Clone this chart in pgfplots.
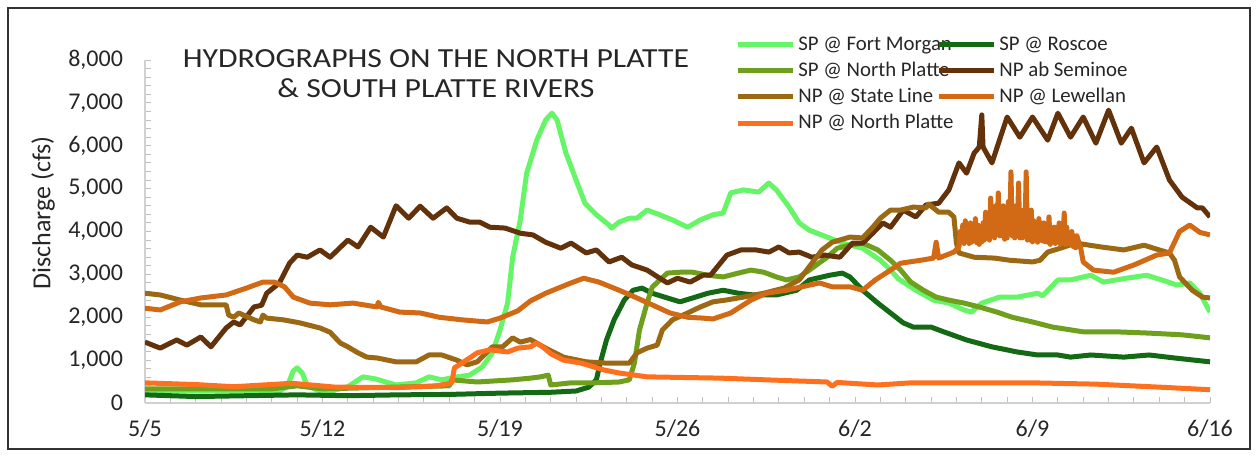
\documentclass[border=0pt]{standalone}
\usepackage{fontspec}
\setmainfont{Carlito}
\newfontfamily\titlefont{Carlito}[FakeStretch=1.15]
\usepackage{pgfplots}
\pgfplotsset{compat=1.18}
\definecolor{cFM}{RGB}{102,245,102}
\definecolor{cRO}{RGB}{20,105,20}
\definecolor{cSPNP}{RGB}{110,160,30}
\definecolor{cSEM}{RGB}{99,50,10}
\definecolor{cSL}{RGB}{155,105,20}
\definecolor{cLEW}{RGB}{210,105,20}
\definecolor{cNPNP}{RGB}{255,112,30}
\begin{document}
\begin{tikzpicture}
\useasboundingbox (0,0) rectangle (628.5pt,227.5pt);
\draw[line width=1pt, black!80] (4pt,3pt) rectangle (625pt,223.5pt);
\begin{axis}[
  at={(72.5pt,26pt)}, anchor=south west,
  scale only axis, width=532.5pt, height=171.5pt,
  xmin=0, xmax=42, ymin=0, ymax=8000,
  axis x line*=bottom, axis y line*=left,
  axis line style={draw=black!18, line width=0.7pt, -},
  xtick={0,7,...,42}, xticklabels={5/5,5/12,5/19,5/26,6/2,6/9,6/16},
  minor x tick num=6,
  ytick={0,1000,...,8000}, minor y tick num=4,
  tick style={draw=black!25, line width=0.5pt},
  major tick length=3pt, minor tick length=3pt,
  tick align=inside,
  ticklabel style={font=\fontsize{12}{14}\selectfont, text=black!85},
  xticklabel style={yshift=-5pt},
  yticklabel style={xshift=-7.5pt},
  /pgf/number format/.cd, 1000 sep={,}, assume math mode=true,
  /pgfplots/.cd,
  scaled y ticks=false,
  every axis plot/.append style={line width=2.5pt, line join=round, no markers},
  legend columns=2,
  legend cell align=left,
  legend image code/.code={\draw[#1, line width=2.5pt] (0pt,0pt) -- (27.5pt,0pt);},
  legend style={at={(0.554,1.079)}, anchor=north west, draw=none, fill=none,
    inner sep=0pt, font=\fontsize{10.4}{12}\selectfont, text=black!85,
    row sep=1.65pt,
    nodes={inner xsep=1.5pt, inner ysep=1pt, text height=7.4pt, text depth=2pt},
    /tikz/every even column/.append style={column sep=-10pt}},
]
% SP @ Fort Morgan
\addplot[color=cFM] coordinates {
(0,280)(5.3,280)(5.6,380)(5.85,750)(6.0,820)(6.2,700)(6.4,400)(6.8,300)(7.3,270)
(8.0,380)(8.6,610)(9.1,560)(9.9,420)(10.7,470)(11.2,610)(11.7,540)(12.3,610)(12.8,650)
(13.3,840)(13.7,1170)(14.0,1700)(14.3,2330)(14.5,3400)(14.8,4270)(15.05,5360)(15.45,6130)
(15.8,6600)(16.05,6760)(16.25,6600)(16.6,5830)(17.0,5200)(17.35,4660)(17.8,4390)(18.3,4150)
(18.4,4080)(18.7,4220)(19.1,4310)(19.4,4310)(19.8,4500)(20.3,4390)(20.8,4270)(21.4,4100)
(21.9,4270)(22.4,4390)(22.8,4430)(23.1,4900)(23.6,4970)(24.2,4920)(24.6,5130)(24.9,4970)
(25.4,4570)(25.8,4200)(26.2,4030)(26.9,3870)(27.5,3730)(28.3,3610)(29.0,3330)(29.4,3100)
(29.7,2900)(30.4,2630)(31.1,2400)(31.7,2330)(32.3,2170)(32.6,2120)(33.0,2330)(33.7,2470)
(34.4,2470)(35.2,2560)(35.4,2500)(36.0,2870)(36.5,2870)(37.3,2980)(37.8,2820)(38.7,2910)
(39.5,2980)(40.1,2870)(40.7,2750)(41.2,2800)(41.6,2560)(42,2120)};
\addlegendentry{SP @ Fort Morgan}
% SP @ Roscoe
\addplot[color=cRO] coordinates {
(0,190)(2,150)(4,170)(6,190)(8,170)(10,190)(12,200)(14,230)(16,250)(17.0,280)(17.5,370)
(17.8,540)(17.95,930)(18.2,1470)(18.5,1940)(18.9,2400)(19.25,2630)(19.6,2680)(20.0,2560)
(20.6,2450)(21.1,2360)(21.6,2450)(22.2,2560)(22.8,2630)(23.4,2560)(24.0,2520)(24.9,2520)
(25.7,2630)(26.2,2870)(27.0,2980)(27.5,3030)(27.8,2940)(28.3,2630)(28.9,2330)(29.4,2100)
(29.9,1870)(30.3,1770)(31.0,1770)(31.5,1660)(32.4,1470)(33.4,1310)(34.4,1190)(35.2,1120)
(36.0,1120)(36.5,1070)(37.3,1120)(38.6,1070)(39.6,1120)(40.6,1050)(42,960)};
\addlegendentry{SP @ Roscoe}
% SP @ North Platte
\addplot[color=cSPNP] coordinates {
(0,330)(5,330)(6,400)(7,330)(12.0,400)(12.1,540)(13.1,490)(14.5,540)(15.2,580)(15.6,610)
(15.9,650)(16.0,420)(16.8,470)(17.7,470)(18.7,490)(19.1,540)(19.3,930)(19.5,1700)(19.8,2330)
(20.0,2700)(20.3,2870)(20.6,3030)(21.1,3050)(21.6,3050)(22.2,2980)(22.8,2940)(23.4,3030)
(23.9,3100)(24.4,3050)(24.9,2940)(25.3,2870)(25.8,2940)(26.2,3100)(26.9,3400)(27.3,3610)
(27.8,3680)(28.3,3730)(28.9,3570)(29.4,3330)(29.8,3100)(30.2,2820)(30.7,2630)(31.2,2470)
(31.7,2400)(32.3,2330)(32.9,2240)(33.6,2120)(34.2,2000)(35.0,1890)(35.8,1770)(37.0,1660)
(38.3,1660)(39.6,1630)(40.9,1590)(42,1520)};
\addlegendentry{SP @ North Platte}
% NP ab Seminoe
\addplot[color=cSEM] coordinates {
(0,1420)(0.6,1280)(1.25,1470)(1.65,1350)(2.2,1540)(2.6,1310)(3.2,1750)(3.5,1890)(3.75,1820)
(4.3,2240)(4.6,2280)(4.8,2560)(5.3,2800)(5.7,3260)(6.0,3450)(6.4,3400)(6.9,3570)(7.3,3400)
(8.0,3800)(8.4,3640)(8.9,4100)(9.4,3870)(9.9,4600)(10.4,4310)(10.85,4590)(11.36,4310)
(11.9,4550)(12.3,4310)(12.8,4220)(13.2,4220)(13.6,4100)(14.2,4080)(14.8,3960)(15.3,3920)
(15.8,3750)(16.4,3610)(16.8,3730)(17.4,3500)(17.8,3570)(18.3,3290)(18.8,3400)(19.2,3220)
(19.8,3100)(20.3,2910)(20.6,2800)(21.0,2910)(21.5,2820)(22.0,2980)(22.3,2980)(22.95,3450)
(23.5,3570)(24.1,3570)(24.6,3520)(25.0,3640)(25.4,3500)(25.8,3520)(26.3,3400)(26.8,3450)
(27.4,3400)(27.9,3730)(28.3,3730)(28.7,3960)(29.1,4200)(29.4,4100)(29.9,4500)(30.4,4340)
(30.8,4620)(31.3,4660)(31.7,4970)(32.1,5600)(32.4,5360)(32.7,5830)(32.9,5970)(33.0,6720)
(33.05,5970)(33.4,5600)(34.0,6670)(34.5,6200)(35.0,6670)(35.6,6130)(36.0,6760)(36.5,6200)
(37.0,6670)(37.5,6060)(38.0,6830)(38.5,6060)(38.9,6410)(39.4,5600)(39.9,5970)(40.4,5200)
(40.9,4800)(41.5,4550)(41.7,4550)(42,4340)};
\addlegendentry{NP ab Seminoe}
% NP @ State Line
\addplot[color=cSL] coordinates {
(0,2560)(0.6,2520)(1.4,2400)(2.2,2290)(3.2,2290)(3.3,2050)(3.5,2000)(3.7,2100)(4.3,1940)
(4.55,1890)(4.65,2050)(4.8,1980)(5.45,1940)(6.1,1870)(6.9,1750)(7.3,1650)(7.7,1400)(8.0,1310)
(8.4,1170)(8.75,1070)(9.15,1050)(9.9,960)(10.7,960)(11.2,1120)(11.7,1120)(12.3,1000)(12.7,890)
(13.1,960)(13.7,1310)(14.1,1310)(14.5,1520)(14.8,1420)(15.2,1480)(15.8,1280)(16.5,1070)
(17.4,960)(18.2,930)(19.1,930)(19.4,1170)(19.8,1280)(20.2,1350)(20.4,1700)(20.8,1940)
(21.4,2100)(21.9,2240)(22.4,2360)(22.9,2400)(23.6,2470)(24.4,2560)(25.2,2680)(25.8,2870)
(26.3,3260)(26.7,3570)(27.1,3750)(27.8,3870)(28.3,3850)(28.7,4100)(29.0,4310)(29.4,4500)
(29.8,4500)(30.3,4570)(30.8,4550)(30.9,4640)(31.3,4450)(31.7,4450)(31.9,4340)(32.0,3730)
(32.1,3500)(32.7,3400)(33.5,3380)(34.1,3330)(35.0,3290)(35.3,3330)(35.6,3520)(36.1,3610)
(36.7,3730)(37.7,3640)(38.6,3570)(39.4,3680)(40.0,3570)(40.4,3500)(40.6,3330)(40.8,2940)
(41.3,2630)(41.7,2470)(42,2450)};
\addlegendentry{NP @ State Line}
% NP @ Lewellan
\addplot[color=cLEW] coordinates {
(0,2210)(0.6,2170)(1.4,2360)(2.2,2450)(3.2,2520)(4.0,2680)(4.65,2820)(5.1,2820)(5.5,2710)
(5.85,2470)(6.5,2330)(7.3,2290)(8.2,2330)(9.15,2240)(9.2,2350)(9.3,2240)(10.05,2120)
(10.85,2100)(11.6,2000)(12.5,1940)(13.5,1890)(14.0,1980)(14.7,2150)(15.2,2380)(15.8,2560)
(16.3,2680)(16.8,2800)(17.3,2910)(17.9,2820)(18.7,2630)(19.4,2450)(20.0,2290)(20.7,2100)
(21.4,2000)(22.0,1980)(22.4,1960)(23.1,2100)(23.9,2400)(24.5,2560)(25.3,2630)(25.9,2710)
(26.6,2800)(27.1,2710)(27.8,2710)(28.3,2630)(28.8,2870)(29.4,3100)(29.8,3260)(30.6,3330)
(31.1,3380)(31.2,3750)(31.3,3380)(31.9,3520)(32.1,3640)
(32.15,4000)(32.2,3760)(32.25,4150)(32.3,3720)(32.35,4250)(32.4,3780)(32.45,4050)(32.5,3720)
(32.55,4200)(32.6,3750)(32.65,4100)(32.7,3780)(32.75,4300)(32.8,3740)(32.85,4150)(32.9,3700)
(32.95,4050)(33.0,3760)(33.05,4200)(33.1,3800)(33.15,4450)(33.2,3850)(33.25,4300)(33.3,3800)
(33.35,4780)(33.4,3900)(33.45,4400)(33.5,3850)(33.55,4600)(33.6,3950)(33.65,4900)(33.7,3900)
(33.75,4450)(33.8,3900)(33.85,4600)(33.9,3820)(33.95,4350)(34.0,3850)(34.05,4700)(34.1,3950)
(34.15,5390)(34.2,3900)(34.25,4400)(34.3,3850)(34.35,4600)(34.4,3900)(34.45,5130)(34.5,3850)
(34.55,4300)(34.6,3850)(34.65,4500)(34.7,3900)(34.75,5390)(34.8,3800)(34.85,4400)(34.9,3800)
(34.95,4500)(35.0,3760)(35.05,4250)(35.1,3800)(35.15,4150)(35.2,3750)(35.25,4300)(35.3,3800)
(35.35,4200)(35.4,3780)(35.45,4200)(35.5,3760)(35.55,4100)(35.6,3750)(35.65,4340)(35.7,3700)
(35.75,4050)(35.8,3780)(35.85,4100)(35.9,3720)(35.95,4100)(36.0,3750)(36.05,4200)(36.1,3700)
(36.15,4080)(36.2,3760)(36.25,4430)(36.3,3700)(36.35,4100)(36.4,3720)(36.45,3950)(36.5,3700)
(36.55,4000)(36.6,3650)(36.65,3900)(36.7,3620)(36.75,3900)(36.85,3700)(36.9,3610)
(37.0,3290)(37.4,3100)(38.2,3050)(39.0,3220)(39.9,3450)(40.4,3500)(40.8,4000)(41.2,4150)
(41.6,3980)(42,3920)};
\addlegendentry{NP @ Lewellan}
% NP @ North Platte
\addplot[color=cNPNP] coordinates {
(0,470)(2,430)(3.5,380)(5.8,460)(7.5,370)(10,360)(11.5,400)(12.1,470)(12.2,820)(12.5,930)
(13.1,1170)(13.6,1240)(14.3,1190)(14.7,1280)(15.2,1310)(15.45,1400)(15.7,1300)(16.0,1150)
(16.5,1000)(17.2,930)(18.1,770)(18.7,700)(19.8,610)(22.7,580)(24.5,540)(26.9,490)(27.1,390)
(27.3,480)(28.9,420)(30.2,470)(35,470)(37.5,440)(40,370)(42,310)};
\addlegendentry{NP @ North Platte}
\end{axis}
\node[rotate=90, font=\fontsize{13}{15}\selectfont, text=black!85] at (21.5pt,121pt) {Discharge (cfs)};
\node[font=\titlefont\fontsize{13.8}{16}\selectfont, text=black!85] at (218pt,198.25pt) {HYDROGRAPHS ON THE NORTH PLATTE};
\node[font=\titlefont\fontsize{13.8}{16}\selectfont, text=black!85] at (218pt,183.25pt) {\& SOUTH PLATTE RIVERS};
\end{tikzpicture}
\end{document}
